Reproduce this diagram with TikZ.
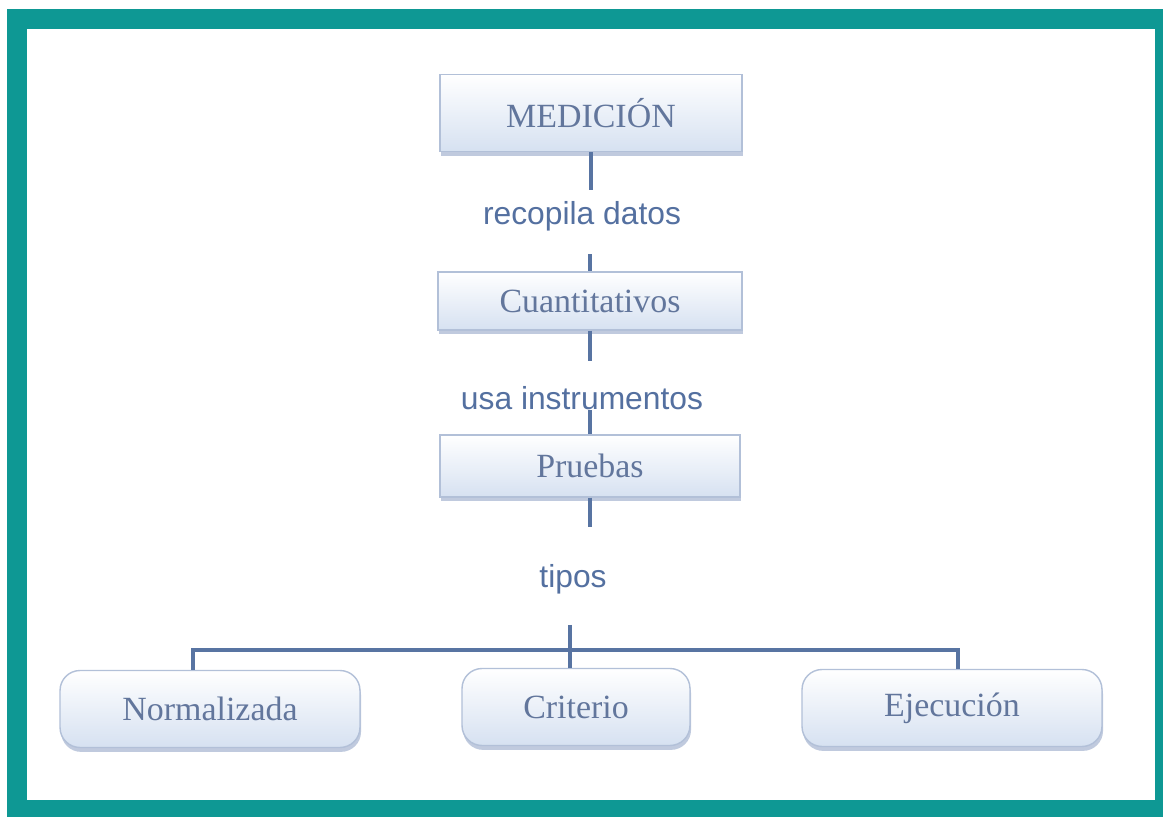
\documentclass[tikz,border=0pt]{standalone}
\usepackage{fontspec}
\setmainfont{Liberation Serif}
\setsansfont{Liberation Sans}
\usetikzlibrary{shadows}
\definecolor{marco}{RGB}{14,152,148}
\definecolor{linea}{RGB}{88,116,162}
\definecolor{texto}{RGB}{98,118,156}
\definecolor{etiq}{RGB}{84,112,160}
\definecolor{borde}{RGB}{178,192,216}
\definecolor{relleno}{RGB}{214,225,241}
\definecolor{sombra}{RGB}{150,168,200}

\begin{document}
\begin{tikzpicture}[x=0.02cm, y=-0.02cm,
                caja/.style={draw=borde, line width=0.8pt, top color=white, bottom color=relleno, text=texto, font=\fontsize{19.3}{23}\selectfont, minimum width=6cm, drop shadow={shadow xshift=0.6pt, shadow yshift=-2.5pt, fill=sombra, opacity=0.6}},
                tipo/.style={caja, rounded corners=0.4cm, minimum height=1.54cm},
                etiqueta/.style={text=etiq, font=\sffamily\fontsize{18.1}{22}\selectfont, inner sep=0pt},
                link/.style={draw=linea, line width=1.8pt}
            ]

            \useasboundingbox (0,0) rectangle (1163,817);
            \fill[white] (0,0) rectangle (1163,817);
            \draw[marco, line width=0.4cm] (17,19) rectangle (1165,810);

            \node[caja, minimum height=1.54cm, minimum width=6.04cm] (medicion) at (591,113) {MEDICIÓN};
            \node[etiqueta] (recopila) at (582,216) {recopila datos};
            \node[caja, minimum height=1.16cm, minimum width=6.08cm] (cuanti) at (590,301) {Cuantitativos};
            \node[etiqueta] (usa) at (582,398) {usa instrumentos};
            \node[caja, minimum height=1.24cm] (pruebas) at (590,466) {Pruebas};
            \node[etiqueta] (tipos) at (573,579) {tipos};

            \node[tipo] (norma) at (210,709) {Normalizada};
            \node[tipo, minimum width=4.56cm] (criterio) at (576,707) {Criterio};
            \node[tipo] (ejec) at (952,708) {Ejecución};
            \coordinate (rama) at (570,650);

            \draw[link, shorten >=6pt] (medicion.south) -- (medicion.south |- recopila.north);
            \draw[link, shorten <=13pt] (cuanti.north |- recopila.south) -- (cuanti.north);
            \draw[link, shorten >=14pt] (cuanti.south) -- (cuanti.south |- usa.north);
            \draw[link] (pruebas.north |- usa.south) -- (pruebas.north);
            \draw[link, shorten >=21pt] (pruebas.south) -- (pruebas.south |- tipos.north);
            \draw[link, shorten <=17.5pt] (rama |- tipos.south) -- (rama);

            \draw[link] ([xshift=-0.34cm]norma.north) |- (rama) -| ([xshift=0.12cm]ejec.north);
            \draw[link] (rama) -- (rama |- criterio.north);

        \end{tikzpicture}
\end{document}
